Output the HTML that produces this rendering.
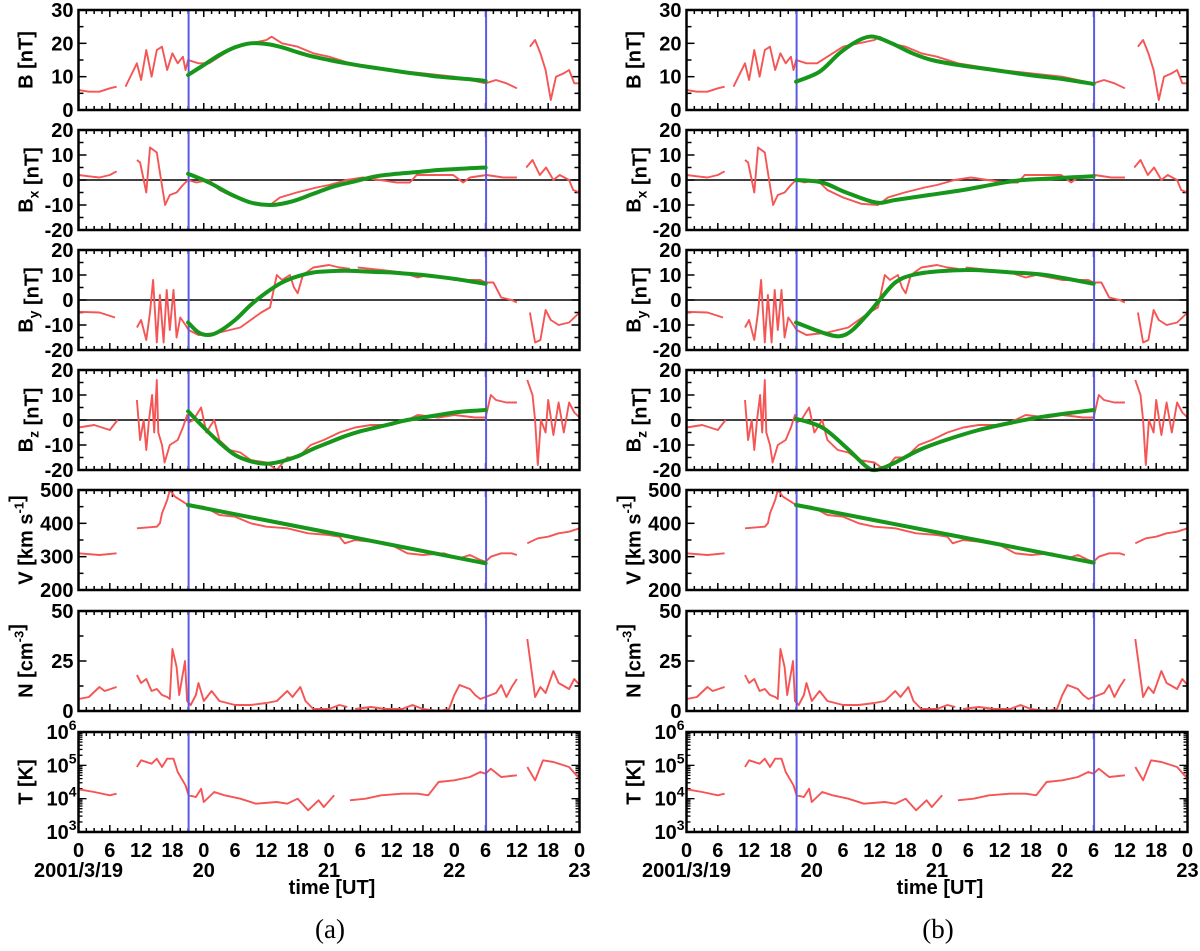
<!DOCTYPE html>
<html><head><meta charset="utf-8"><style>
html,body{margin:0;padding:0;background:#fff}
svg text{font-family:"Liberation Sans",sans-serif;font-weight:bold;fill:#000}
</style></head><body>
<svg id="fig" width="1200" height="946" viewBox="0 0 1200 946" xmlns="http://www.w3.org/2000/svg"></svg>
<script>
// ---- time grid (hours from 2001/3/19 00UT) ----
const bT = [0,2,4,6,7.3,8,9,11.2,12,13,14,15,16,17,18,19,20,20.5,21,23,25,27,30,33,36,37,39,42,45,48,52,56,60,66,72,75,78,80,82,84,85,86.5,87.5,88.5,89.5,90.5,91.5,93,94,95,96];
const bV = [6,5.5,5.5,6.5,7,null,7,14,9,18,10,18,19,12,17,14,16,12,15,14,14,16,19,20,21,22,20,19,17,16,14,13,12,11,10,9,8,9,8,6.5,null,19,21,17,12,3,10,11,12,8,8];

const bxT = [0,2,4,6,7.3,8,9,10,11.2,11.8,13,13.7,15,15.6,16.6,17.5,18.8,20,21,22.6,25,27,30,33.5,36.7,38.6,41.8,45.6,48,51.4,54.5,57.7,61,63.5,64.8,67.3,71.8,73.7,75,78.2,81.4,84,85,85.8,87,88.4,89.6,91,92.2,94,94.8,96];
const bxV = [2,1.5,1,2,3.5,null,5,null,8,7,-5,13,11,3,-10,-6,-5,-2,0,-1,0,-4,-7,-9.5,-10,-7,-5,-3,-2,0,1,0,-1,-1,2,2,2,-1,1,2,1,1,null,5,8,2,5,0,2,0,-4,-5];

const byT = [0,4,7,8,9,10,11.2,12,13,13.7,14.3,15,15.6,16.3,16.9,17.5,18.2,18.8,19.5,20.5,21.1,23,27,29,31,33,35,36.7,38,39,40.5,41.3,42,43,45,48,50,52,53,53.5,58,62,65,67,72,77,78,79.5,81,83,84,85,86.5,87.5,88.5,89.5,90.5,92,94,96];
const byV = [-4.7,-5,-7,null,-2,null,-11,-8,-16,-5,8,-17,2,-17,4,-12,4,-15,-7,-10,-12,-14,-13,-12,-11,-8,-5,-3,10,8,10,5,2.7,10,13,14,13,12.5,null,13,12,11,9,10,8,8,7,7,1,0,-1,null,-5,-17,-16,-4,-8,-10,-9,-5];

const bzT = [0,3,6,7.5,8,9,10,11.2,11.8,12.5,13,13.5,14.1,14.5,15,15.3,16,16.5,17.5,19,20,20.8,21.1,22,23.5,24.5,26,27,29,31,33,36,38,40,42,44.5,47,50,53,56,60,63,65,69,72,76,78,79,80,82,84,85,86,87,87.5,88,88.6,89.5,90,91,92,93,94,95,96];
const bzV = [-3,-2,-4,0,null,4,null,8,-8,0,-12,0,10,-5,16,-5,-10,-17,-10,-8,-3,2,-1,0,5,-5,0,-8,-12,-13,-16,-17,-20,-15,-15,-10,-8,-5,-3,-2,-2,0,2,1,2,1,1,10,8,7,7,null,16,10,0,-18,0,-5,8,-6,7,-5,7,3,1];

const vT = [0,4,7.3,8,9,10,11.2,15,15.6,16,17,17.5,18.5,20,21,24,27,30,33,36,40,44,48,50,51,53,56,60,63,66,70,73,75,77,78,79,81,83,84,85,86,88,90,92,94,96];
const vV = [310,305,310,null,320,null,385,390,400,430,470,500,480,465,455,450,425,420,400,390,385,370,365,360,340,350,345,335,310,305,310,295,305,290,285,300,310,310,305,null,340,355,360,370,375,385];

const nT = [0,2,4,5,7.3,8,9,10,11.2,12,13,14,15,16,17,17.5,18,18.8,19.3,20.4,20.8,21.5,22.5,23,24,25.5,27,30,33,36,38,40,41,42.5,43.5,45,48,50,51.5,52,53,56,59,62,64,66,69,71,72,73,75,76,77,78,80,81,82,83,84,85,86,87.5,88.5,89.5,91,92,94,95,96];
const nV = [6,7,12,10,12,null,9,null,18,14,16,10,11,8,7,6,31,22,8,25,5,3,8,14,5,10,5,3,3,4,5,10,7,12,5,1,1,3,2,null,1,2,1,1,3,1,0,1,8,13,11,8,6,7,9,13,7,12,16,null,36,7,12,9,20,14,11,16,13];

const tT = [0,3,6,7.3,8,8.5,9,11.2,12,14,15,16,17,18.2,19,20.5,21.1,22.5,23.5,24,26,28,31,34,38,40,42,44,46,47,49,50.5,52,55,58,62,65,67,69,72,75,77,78,79,81,84,85,86,87.5,89,91,94,96];
const tV = [4.28,4.2,4.1,4.15,null,4.75,null,4.95,5.15,5.05,5.2,4.95,5.2,5.2,4.8,4.4,4.1,4.05,4.3,3.9,4.2,4.1,4.0,3.85,3.9,3.85,4.0,3.65,3.95,3.75,4.1,null,3.95,4.0,4.1,4.15,4.15,4.1,4.5,4.55,4.65,4.8,4.75,4.9,4.65,4.7,null,4.95,4.55,5.15,5.1,4.95,4.6];

// ---- fit curves (a) ----
const fitBTa = [21,24,27,30,33,36,39,42,45,48,51,54,57,60,63,66,69,72,75,78];
const fitBVa = [10.5,13.5,16.5,18.8,20,19.8,18.8,17.3,16,15,14.1,13.3,12.6,11.9,11.2,10.6,10,9.6,9.2,8.7];
const fitBxTa = [21,25,29,33,37,41,45,49,53,57,61,65,69,73,78];
const fitBxVa = [2.5,-1,-5.5,-9,-10,-8.5,-5.5,-2.5,-0.5,1.5,2.5,3.2,4,4.5,5];
const fitByTa = [21,23,25,27,30,33,36,39,42,45,48,51,54,57,60,63,66,69,72,75,78];
const fitByVa = [-9,-13,-14,-12.5,-8,-2,3,7,9.5,11,11.5,11.7,11.5,11.2,11,10.5,10,9.3,8.5,7.5,6.5];
const fitBzTa = [21,24,27,30,33,36,39,42,45,48,51,54,57,60,63,66,69,72,75,78];
const fitBzVa = [3.5,-3,-9,-14,-16.5,-17.5,-16.5,-14.5,-11.5,-9,-6.5,-4.5,-3,-1.5,0,1,2,3,3.6,4];
const fitVTa = [21,78];
const fitVVa = [455,280];
// ---- fit curves (b) ----
const fitBTb = [21,25.5,29.3,32.5,35,37,40,43.3,47,52.9,59,65.6,72,78];
const fitBVb = [8.5,11.5,17,20.5,22,21.5,19.5,17,15,13.3,12,10.5,9.3,7.8];
const fitBxTb = [21,26,30.6,36.3,40,46.5,53,62.4,68.8,78];
const fitBxVb = [0,-1,-5,-9,-8,-6,-4,-0.5,0.5,1.5];
const fitByTb = [21,26,29.3,31.8,35,37,40,43.3,48.4,54.8,62.4,68.8,78];
const fitByVb = [-9,-13,-14.5,-12,-5,0,7,10,11.5,12,11,10,6.5];
const fitBzTb = [21,26,30.6,34.4,36.3,39.5,44.6,49.7,56,62.4,68.8,78];
const fitBzVb = [0.5,-3,-11,-18.5,-20,-17.5,-12,-8,-4,-1,1.5,4];
const fitVTb = [21,78];
const fitVVb = [455,282];

const boundaryHours = [21.1, 78.1];
const xTickLabels = ["0","6","12","18","0","6","12","18","0","6","12","18","0","6","12","18","0"];
const dayLabels = ["2001/3/19","20","21","22","23"];

const NS = "http://www.w3.org/2000/svg";
const svg = document.getElementById('fig');
function mk(tag, attrs, parent){ const e=document.createElementNS(NS,tag); for(const k in attrs) e.setAttribute(k,attrs[k]); (parent||svg).appendChild(e); return e; }

const W = 501, H = 100;
const colX = [78.5, 686.5];
const rowY = [10,130,250,370,490,611,732];

const panels = [
  {key:'b', min:0,max:30, labels:[0,10,20,30], minor:5, zero:false, title:[['B',''],[' [nT]','']], t:bT, v:bV, fit:[[fitBTa,fitBVa],[fitBTb,fitBVb]]},
  {key:'bx', min:-20,max:20, labels:[-20,-10,0,10,20], minor:5, zero:true, title:[['B',''],['x','sub'],[' [nT]','']], t:bxT, v:bxV, fit:[[fitBxTa,fitBxVa],[fitBxTb,fitBxVb]]},
  {key:'by', min:-20,max:20, labels:[-20,-10,0,10,20], minor:5, zero:true, title:[['B',''],['y','sub'],[' [nT]','']], t:byT, v:byV, fit:[[fitByTa,fitByVa],[fitByTb,fitByVb]]},
  {key:'bz', min:-20,max:20, labels:[-20,-10,0,10,20], minor:5, zero:true, title:[['B',''],['z','sub'],[' [nT]','']], t:bzT, v:bzV, fit:[[fitBzTa,fitBzVa],[fitBzTb,fitBzVb]]},
  {key:'v', min:200,max:500, labels:[200,300,400,500], minor:50, zero:false, title:[['V [km s',''],['-1','sup'],[']','']], t:vT, v:vV, fit:[[fitVTa,fitVVa],[fitVTb,fitVVb]]},
  {key:'n', min:0,max:50, labels:[0,25,50], minor:12.5, zero:false, title:[['N [cm',''],['-3','sup'],[']','']], t:nT, v:nV, fit:null},
  {key:'t', min:3,max:6, labels:[3,4,5,6], minor:null, log:true, zero:false, title:[['T [K]','']], t:tT, v:tV, fit:null},
];

function pathFrom(ts, vs, xf, yf){
  let d='', pen=false;
  for(let i=0;i<ts.length;i++){
    if(vs[i]===null){pen=false;continue;}
    const x=xf(ts[i]).toFixed(1), y=yf(vs[i]).toFixed(1);
    d += (pen?'L':'M')+x+' '+y+' '; pen=true;
  }
  return d;
}
function smoothPath(ts, vs, xf, yf){
  const P = ts.map((t,i)=>[xf(t), yf(vs[i])]);
  let d = 'M'+P[0][0].toFixed(1)+' '+P[0][1].toFixed(1);
  for(let i=0;i<P.length-1;i++){
    const p0=P[Math.max(0,i-1)], p1=P[i], p2=P[i+1], p3=P[Math.min(P.length-1,i+2)];
    const c1=[p1[0]+(p2[0]-p0[0])/6, p1[1]+(p2[1]-p0[1])/6];
    const c2=[p2[0]-(p3[0]-p1[0])/6, p2[1]-(p3[1]-p1[1])/6];
    d+=` C${c1[0].toFixed(1)} ${c1[1].toFixed(1)} ${c2[0].toFixed(1)} ${c2[1].toFixed(1)} ${p2[0].toFixed(1)} ${p2[1].toFixed(1)}`;
  }
  return d;
}

['a','b'].forEach((lab,ci)=>{
  const x0 = colX[ci];
  const xf = h => x0 + h/96*W;
  panels.forEach((p,ri)=>{
    const y0 = rowY[ri];
    const yf = v => y0 + H - (v-p.min)/(p.max-p.min)*H;
    const g = mk('g',{});
    
    
    for(let h=0; h<=96.01; h+=1.5){
      const major = Math.abs(h/6-Math.round(h/6))<1e-6;
      const L = major?7:4;
      mk('line',{x1:xf(h),x2:xf(h),y1:y0+H,y2:y0+H-L,stroke:'#000','stroke-width':1.5},g);
      mk('line',{x1:xf(h),x2:xf(h),y1:y0,y2:y0+L,stroke:'#000','stroke-width':1.5},g);
    }
    if(p.log){
      for(let d=3; d<6; d++){
        for(let m=1;m<10;m++){
          const v=d+Math.log10(m); const L=m===1?8:4;
          mk('line',{x1:x0,x2:x0+L,y1:yf(v),y2:yf(v),stroke:'#000','stroke-width':1.3},g);
          mk('line',{x1:x0+W,x2:x0+W-L,y1:yf(v),y2:yf(v),stroke:'#000','stroke-width':1.3},g);
        }
      }
    } else {
      for(let v=p.min; v<=p.max+1e-6; v+=p.minor){
        const major = p.labels.some(l=>Math.abs(l-v)<1e-6);
        const L = major?8:5;
        mk('line',{x1:x0,x2:x0+L,y1:yf(v),y2:yf(v),stroke:'#000','stroke-width':1.5},g);
        mk('line',{x1:x0+W,x2:x0+W-L,y1:yf(v),y2:yf(v),stroke:'#000','stroke-width':1.5},g);
      }
    }
    p.labels.forEach(l=>{
      const t = mk('text',{x:x0-5,y:yf(l)+7,'text-anchor':'end','font-size':20},g);
      
      
      if(p.log){ t.textContent='10'; const s=mk('tspan',{'font-size':14,dy:-9},t); s.textContent=String(l); t.setAttribute('x',x0-2); }
      else t.textContent=String(l);
    });
    const tt = mk('text',{x:0,y:0,'text-anchor':'middle','font-size':20,transform:`translate(${x0-46},${y0+H/2}) rotate(-90)`},g);
    
    
    p.title.forEach(([s,k])=>{
      const ts = mk('tspan',{},tt);
      if(k==='sub'){ts.setAttribute('font-size',14);ts.setAttribute('dy',6);}
      if(k==='sup'){ts.setAttribute('font-size',13);ts.setAttribute('dy',-9);}
      ts.textContent=s;
      if(k){ const back = mk('tspan',{dy:(k==='sub'?-6:9)},tt); back.textContent=''; }
    });
    if(p.zero){ const z=mk('line',{x1:x0,x2:x0+W,y1:yf(0),y2:yf(0),stroke:'#000','stroke-width':1.5},g);
        }
    const r = mk('path',{d:pathFrom(p.t,p.v,xf,yf),fill:'none',stroke:'#f55555','stroke-width':1.9,'stroke-linejoin':'round'},g);
    
    
    boundaryHours.forEach(h=>{
      const b=mk('line',{x1:xf(h),x2:xf(h),y1:y0,y2:y0+H,stroke:'#5a5ae6','stroke-width':2},g);
      
      
    });
    if(p.fit){
      const f=p.fit[ci];
      const gp=mk('path',{d:smoothPath(f[0],f[1],xf,yf),fill:'none',stroke:'#16961a','stroke-width':4,'stroke-linejoin':'round','stroke-linecap':'round'},g);
      
      
    }
    mk('rect',{x:x0,y:y0,width:W,height:H,fill:'none',stroke:'#000','stroke-width':2.5},g);
  });
  xTickLabels.forEach((s,i)=>{
    const t=mk('text',{x:xf(i*6),y:857,'text-anchor':'middle','font-size':20});
    
    
    t.textContent=s;
  });
  dayLabels.forEach((s,i)=>{
    const t=mk('text',{x:xf(i*24),y:877,'text-anchor':'middle','font-size':20});
    
    
    t.textContent=s;
  });
  const xt=mk('text',{x:x0+W/2+3,y:894,'text-anchor':'middle','font-size':20});
  
  
  xt.textContent='time [UT]';
  const cap=mk('text',{x:x0+W/2+1,y:938,'text-anchor':'middle','font-size':27,style:'font-family:"Liberation Serif",serif;font-weight:normal'});
  
  
  cap.textContent='('+lab+')';
});
</script>
</body></html>
